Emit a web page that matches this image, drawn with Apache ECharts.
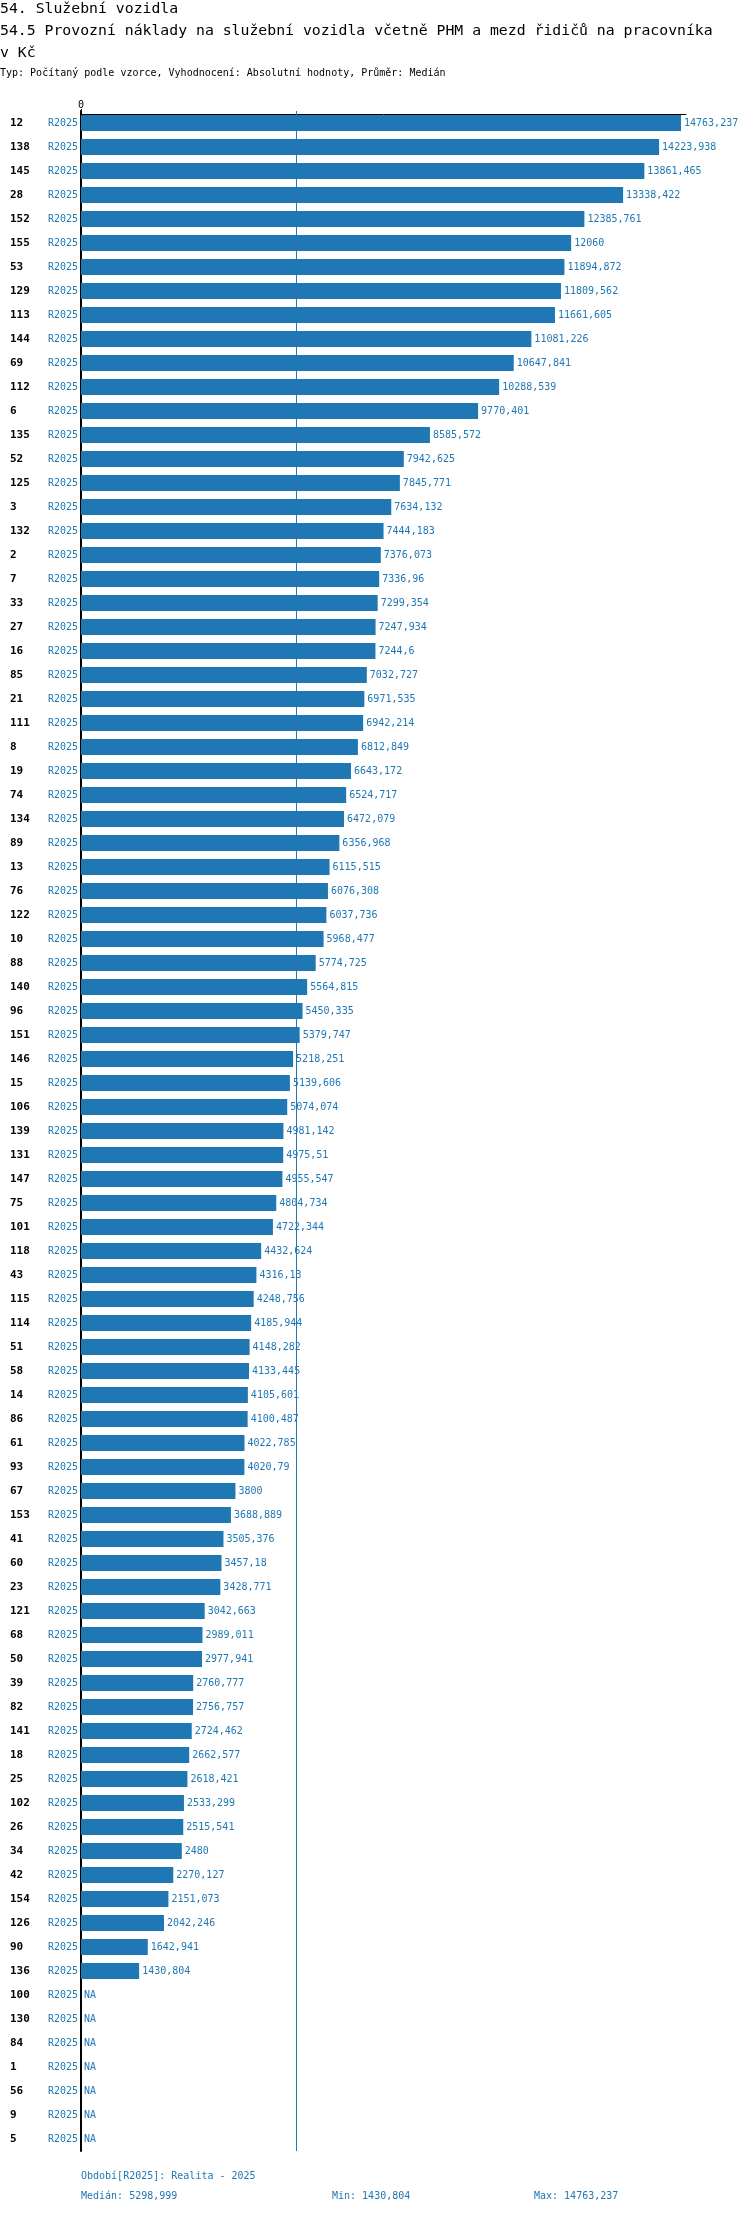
<!DOCTYPE html>
<html>
<head>
<meta charset="utf-8">
<script src="https://cdn.jsdelivr.net/npm/echarts@6/dist/echarts.min.js"></script>
<style>
  html, body { margin: 0; padding: 0; background: #fff; }
  #chart { width: 750px; height: 2214px; }
</style>
</head>
<body>
<div id="chart"></div>
<script>
// hodnoty (NA = null)
var categories = ['12', '138', '145', '28', '152', '155', '53', '129', '113', '144',
	'69', '112', '6', '135', '52', '125', '3', '132', '2', '7',
	'33', '27', '16', '85', '21', '111', '8', '19', '74', '134',
	'89', '13', '76', '122', '10', '88', '140', '96', '151', '146',
	'15', '106', '139', '131', '147', '75', '101', '118', '43', '115',
	'114', '51', '58', '14', '86', '61', '93', '67', '153', '41',
	'60', '23', '121', '68', '50', '39', '82', '141', '18', '25',
	'102', '26', '34', '42', '154', '126', '90', '136', '100', '130',
	'84', '1', '56', '9', '5'];

var values = [14763.237, 14223.938, 13861.465, 13338.422, 12385.761, 12060, 11894.872, 11809.562, 11661.605, 11081.226,
	10647.841, 10288.539, 9770.401, 8585.572, 7942.625, 7845.771, 7634.132, 7444.183, 7376.073, 7336.96,
	7299.354, 7247.934, 7244.6, 7032.727, 6971.535, 6942.214, 6812.849, 6643.172, 6524.717, 6472.079,
	6356.968, 6115.515, 6076.308, 6037.736, 5968.477, 5774.725, 5564.815, 5450.335, 5379.747, 5218.251,
	5139.606, 5074.074, 4981.142, 4975.51, 4955.547, 4804.734, 4722.344, 4432.624, 4316.13, 4248.756,
	4185.944, 4148.282, 4133.445, 4105.601, 4100.487, 4022.785, 4020.79, 3800, 3688.889, 3505.376,
	3457.18, 3428.771, 3042.663, 2989.011, 2977.941, 2760.777, 2756.757, 2724.462, 2662.577, 2618.421,
	2533.299, 2515.541, 2480, 2270.127, 2151.073, 2042.246, 1642.941, 1430.804, null, null,
	null, null, null, null, null];

var periodCode = 'R2025';
var periodName = 'Realita - 2025';

var titleLines = ['54. Služební vozidla',
	'54.5 Provozní náklady na služební vozidla včetně PHM a mezd řidičů na pracovníka',
	'v Kč'];
var subtitle = 'Typ: Počítaný podle vzorce, Vyhodnocení: Absolutní hodnoty, Průměr: Medián';

var MONO = '"DejaVu Sans Mono", "Liberation Mono", monospace';
var BLUE = '#1f77b4';

function fmt(v) {
	return String(Math.round(v * 1000) / 1000).replace('.', ',');
}

// median / min / max z dat
var known = values.filter(function (v) { return v != null; }).sort(function (a, b) { return a - b; });
var n = known.length;
var median = n % 2 ? known[(n - 1) / 2] : (known[n / 2 - 1] + known[n / 2]) / 2;
median = Math.round(median * 1000) / 1000;
var minVal = known[0];
var maxVal = known[n - 1];

var barData = values.map(function (v) {
	if (v == null) {
		return { value: 0, label: { formatter: 'NA' } };
	}
	return v;
});

var myChart = echarts.init(document.getElementById('chart'));

var option = {
	animation: false,
	backgroundColor: '#fff',
	grid: {
		left: 81,
		right: 64,
		top: 111,
		height: categories.length * 24
	},
	xAxis: {
		type: 'value',
		position: 'top',
		offset: -3,
		min: 0,
		max: function (v) { return v.max * 1.0083; },
		interval: 100000,
		splitLine: { show: false },
		axisLine: { show: true, lineStyle: { color: '#000', width: 1 } },
		axisTick: { show: true, length: 5, lineStyle: { color: '#000' } },
		axisLabel: {
			margin: 4,
			fontFamily: MONO,
			fontSize: 10,
			color: '#000',
			showMaxLabel: false,
			formatter: function (v) { return v === 0 ? '0' : ''; }
		}
	},
	yAxis: {
		type: 'category',
		inverse: true,
		data: categories,
		axisTick: { show: false },
		axisLine: { show: true, lineStyle: { color: '#000', width: 2 } },
		axisLabel: {
			margin: 3,
			formatter: function (c) { return '{a|' + c + '}{b|' + periodCode + '}'; },
			rich: {
				a: { width: 38, align: 'left', fontFamily: MONO, fontSize: 11, fontWeight: 'bold', color: '#000' },
				b: { fontFamily: MONO, fontSize: 10, color: BLUE }
			}
		}
	},
	series: [{
		// medianova cara pod sloupci
		type: 'line',
		data: [],
		z: 1,
		markLine: {
			silent: true,
			symbol: 'none',
			label: { show: false },
			lineStyle: { color: BLUE, width: 1, type: 'solid' },
			data: [{ xAxis: median }]
		}
	}, {
		type: 'bar',
		data: barData,
		z: 3,
		barWidth: 16,
		itemStyle: { color: BLUE },
		label: {
			show: true,
			position: 'right',
			distance: 3,
			fontFamily: MONO,
			fontSize: 10,
			color: BLUE,
			backgroundColor: '#fff',
			padding: [1, 0],
			formatter: function (p) { return fmt(p.value); }
		}
	}],
	graphic: [
		{ type: 'text', left: 0, top: 2, style: { text: titleLines[0], font: '14.8px ' + MONO, fill: '#000' } },
		{ type: 'text', left: 0, top: 24, style: { text: titleLines[1], font: '14.8px ' + MONO, fill: '#000' } },
		{ type: 'text', left: 0, top: 46, style: { text: titleLines[2], font: '14.8px ' + MONO, fill: '#000' } },
		{ type: 'text', left: 0, top: 68, style: { text: subtitle, font: '10px ' + MONO, fill: '#000' } },
		{ type: 'text', left: 81, top: 2171, style: { text: 'Období[' + periodCode + ']: ' + periodName, font: '10px ' + MONO, fill: BLUE } },
		{ type: 'text', left: 81, top: 2191, style: { text: 'Medián: ' + fmt(median), font: '10px ' + MONO, fill: BLUE } },
		{ type: 'text', left: 332, top: 2191, style: { text: 'Min: ' + fmt(minVal), font: '10px ' + MONO, fill: BLUE } },
		{ type: 'text', left: 534, top: 2191, style: { text: 'Max: ' + fmt(maxVal), font: '10px ' + MONO, fill: BLUE } }
	]
};

myChart.setOption(option);
</script>
</body>
</html>
